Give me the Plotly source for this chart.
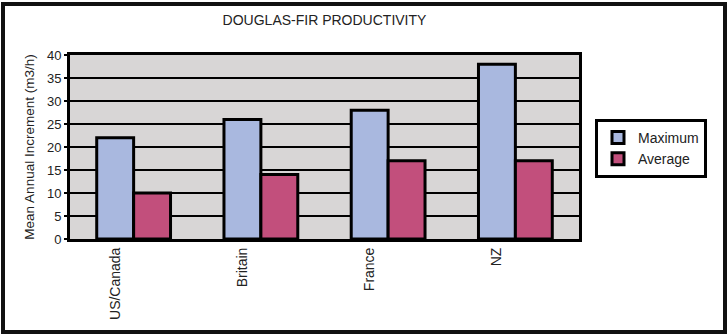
import plotly.graph_objects as go

categories = ["US/Canada", "Britain", "France", "NZ"]
maximum = [22, 26, 28, 38]
average = [10, 14, 17, 17]
yticks = [0, 5, 10, 15, 20, 25, 30, 35, 40]

W, H = 728, 335
L, R, T, B = 70, 149, 55, 96
pw, ph = W - L - R, H - T - B

xs = list(range(len(categories)))

fig = go.Figure()
fig.add_bar(x=xs, y=maximum, name="Maximum", legendgroup="a",
            marker=dict(color="#a9b8df", line=dict(color="black", width=3)))
fig.add_bar(x=xs, y=average, name="Average", legendgroup="b",
            marker=dict(color="#c24f7c", line=dict(color="black", width=3)))

def px(x):
    return (x - L) / pw

def py(y):
    return (H - B - y) / ph

fig.add_shape(type="rect", xref="paper", yref="paper",
              x0=px(3), x1=px(725), y0=py(332), y1=py(4),
              line=dict(color="#111", width=4), layer="above")

fig.update_layout(
    width=W, height=H,
    margin=dict(l=L, r=R, t=T, b=B),
    paper_bgcolor="white",
    plot_bgcolor="#d8d6d6",
    barmode="group",
    bargap=0.42,
    bargroupgap=0,
    font=dict(family="Liberation Sans, Arial, sans-serif", size=13, color="#222"),
    title=dict(text="DOUGLAS-FIR PRODUCTIVITY", xref="paper", x=0.5, xanchor="center",
               y=1 - 20 / H, yanchor="middle", font=dict(size=14, color="#222")),
    xaxis=dict(
        range=[-0.5, 3.5],
        tickmode="array",
        tickvals=[x - 0.145 for x in xs],
        ticktext=categories,
        tickangle=-90,
        showgrid=False,
        zeroline=False,
        showline=True, linecolor="black", linewidth=3, mirror=True,
        ticks="",
        tickfont=dict(size=14, color="#222"),
    ),
    yaxis=dict(
        range=[0, 40],
        tickvals=yticks,
        showgrid=True, gridcolor="black", gridwidth=2,
        zeroline=False,
        showline=True, linecolor="black", linewidth=3, mirror=True,
        ticks="outside", ticklen=3, tickwidth=2, tickcolor="black",
        tickfont=dict(size=13, color="#222"),
        title=dict(text="Mean Annual Increment (m3/h)", font=dict(size=13.5, color="#222"), standoff=10),
    ),
    legend=dict(
        x=px(595), y=py(119), xanchor="left", yanchor="top",
        bgcolor="white", bordercolor="black", borderwidth=3,
        font=dict(size=14, color="#222"),
        tracegroupgap=12,
        traceorder="normal",
    ),
)

fig.write_html("out.html")
